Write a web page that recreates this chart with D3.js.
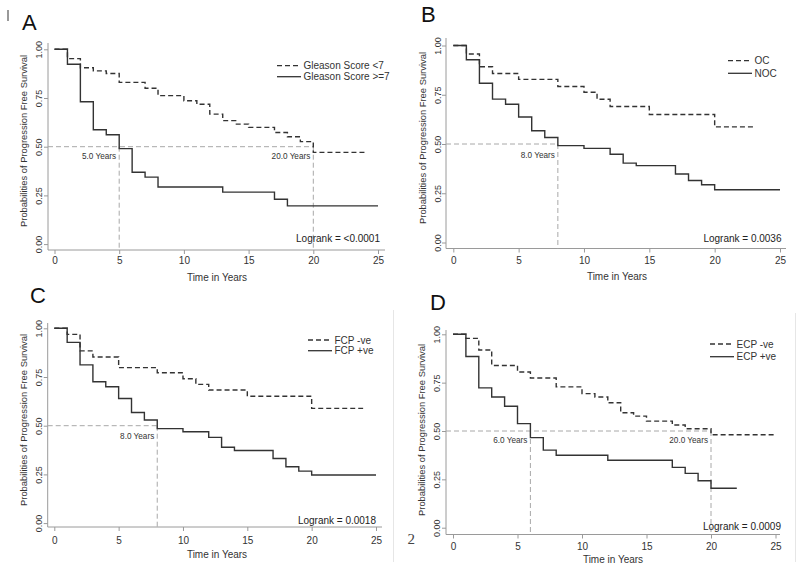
<!DOCTYPE html>
<html>
<head>
<meta charset="utf-8">
<script src="https://cdn.jsdelivr.net/npm/d3@7"></script>
<style>
  html, body { margin: 0; padding: 0; background: #fff; }
  svg { display: block; font-family: "Liberation Sans", Arial, sans-serif; }
</style>
</head>
<body>
<svg id="chart" width="800" height="572"></svg>
<script>
// ---------------- DATA ----------------
const timeTicks = [0, 5, 10, 15, 20, 25];
const survTicks = [0, 0.25, 0.5, 0.75, 1];
const survTickLabels = ["0.00", "0.25", "0.50", "0.75", "1.00"];
const panelLetters = ["A", "B", "C", "D"];
const xTitle = "Time in Years";
const yTitle = "Probabilities of Progression Free Survival";

// Panel A
const aDashTimes = [0, 1, 2, 3, 4, 5, 7, 8, 10, 11, 12, 13, 14, 15, 17, 18, 19, 20, 24];
const aDashSurv  = [1.00, 0.952, 0.905, 0.889, 0.876, 0.830, 0.800, 0.762, 0.736, 0.718, 0.667, 0.634, 0.616, 0.599, 0.573, 0.551, 0.526, 0.471, 0.471];
const aSolidTimes = [0, 1, 2, 3, 4, 5, 6, 7, 8, 13, 17, 18, 25];
const aSolidSurv  = [1.00, 0.923, 0.731, 0.587, 0.561, 0.490, 0.369, 0.344, 0.293, 0.267, 0.230, 0.196, 0.196];
const aLegend = ["Gleason Score <7", "Gleason Score >=7"];
const aLogrank = "Logrank = <0.0001";
const aMedians = [5, 20];

// Panel B
const bDashTimes = [0, 1, 2, 3, 5, 8, 10, 11, 12, 15, 20, 23];
const bDashSurv  = [1.00, 0.957, 0.892, 0.858, 0.828, 0.792, 0.763, 0.727, 0.690, 0.650, 0.587, 0.587];
const bSolidTimes = [0, 1, 2, 3, 4, 5, 6, 7, 8, 10, 12, 13, 14, 17, 18, 19, 20, 25];
const bSolidSurv  = [1.00, 0.928, 0.808, 0.728, 0.702, 0.637, 0.567, 0.533, 0.492, 0.478, 0.448, 0.403, 0.390, 0.348, 0.315, 0.293, 0.268, 0.268];
const bLegend = ["OC", "NOC"];
const bLogrank = "Logrank = 0.0036";
const bMedians = [8];

// Panel C
const cDashTimes = [0, 1, 2, 3, 5, 8, 10, 11, 12, 15, 20, 24];
const cDashSurv  = [1.00, 0.969, 0.884, 0.853, 0.798, 0.772, 0.741, 0.712, 0.683, 0.651, 0.589, 0.589];
const cSolidTimes = [0, 1, 2, 3, 4, 5, 6, 7, 8, 10, 12, 13, 14, 17, 18, 19, 20, 25];
const cSolidSurv  = [1.00, 0.928, 0.812, 0.726, 0.700, 0.640, 0.568, 0.529, 0.485, 0.469, 0.440, 0.389, 0.373, 0.332, 0.289, 0.267, 0.247, 0.247];
const cLegend = ["FCP -ve", "FCP +ve"];
const cLogrank = "Logrank = 0.0018";
const cMedians = [8];

// Panel D
const dDashTimes = [0, 1, 2, 3, 5, 6, 8, 10, 11, 12, 13, 14, 15, 17, 18, 20, 25];
const dDashSurv  = [1.00, 0.979, 0.919, 0.839, 0.805, 0.774, 0.728, 0.693, 0.676, 0.646, 0.594, 0.577, 0.551, 0.531, 0.512, 0.481, 0.481];
const dSolidTimes = [0, 1, 2, 3, 4, 5, 6, 7, 8, 12, 17, 18, 19, 20, 22];
const dSolidSurv  = [1.00, 0.885, 0.723, 0.676, 0.628, 0.538, 0.466, 0.401, 0.375, 0.349, 0.312, 0.281, 0.243, 0.204, 0.204];
const dLegend = ["ECP -ve", "ECP +ve"];
const dLogrank = "Logrank = 0.0009";
const dMedians = [6, 20];

// ---------------- LAYOUT (pixels) ----------------
const layouts = [
  { x0: 54.5, x25: 378, y1: 49.3, yHalf: 146.7, axX: 48, axY: 250, axTop: 43, axRight: 385,
    tickLblY: 263.5, titleY: 281, titleX: 217, yLblX: 39, yTitleX: 23, yTitleY: 141,
    letterX: 22, letterY: 30, legX: 277, legY: 65.7, legDy: 11, logX: 380, logY: 241.5, medLblY: 159 },
  { x0: 453.3, x25: 780, y1: 45.5, yHalf: 144, axX: 446, axY: 248.5, axTop: 38, axRight: 786,
    tickLblY: 263.5, titleY: 280, titleX: 617, yLblX: 437.5, yTitleX: 422, yTitleY: 138,
    letterX: 421, letterY: 22, legX: 728, legY: 60.7, legDy: 12.6, logX: 781.5, logY: 241.5, medLblY: 158 },
  { x0: 54.3, x25: 376, y1: 328.3, yHalf: 425.7, axX: 47.7, axY: 527, axTop: 323, axRight: 382,
    tickLblY: 543.5, titleY: 557.5, titleX: 217, yLblX: 38.5, yTitleX: 23.3, yTitleY: 420,
    letterX: 30, letterY: 303, legX: 308, legY: 340, legDy: 10.7, logX: 376, logY: 523.5, medLblY: 439 },
  { x0: 453, x25: 775.5, y1: 334.3, yHalf: 431, axX: 446, axY: 534.5, axTop: 330, axRight: 780,
    tickLblY: 550, titleY: 563, titleX: 613, yLblX: 436.7, yTitleX: 421.7, yTitleY: 430,
    letterX: 430, letterY: 310, legX: 710, legY: 344, legDy: 12.7, logX: 781, logY: 530, medLblY: 443 }
];

const panels = [
  { dash: [aDashTimes, aDashSurv], solid: [aSolidTimes, aSolidSurv], legend: aLegend, logrank: aLogrank, medians: aMedians },
  { dash: [bDashTimes, bDashSurv], solid: [bSolidTimes, bSolidSurv], legend: bLegend, logrank: bLogrank, medians: bMedians },
  { dash: [cDashTimes, cDashSurv], solid: [cSolidTimes, cSolidSurv], legend: cLegend, logrank: cLogrank, medians: cMedians },
  { dash: [dDashTimes, dDashSurv], solid: [dSolidTimes, dSolidSurv], legend: dLegend, logrank: dLogrank, medians: dMedians }
];

// ---------------- DRAW ----------------
const svg = d3.select("#chart");
const curveColor = "#333";
const axisColor = "#9a9a9a";
const textColor = "#333";
const medColor = "#a8a8a8";
const fmtYears = d3.format(".1f");

// faint frame lines and page marks
svg.append("line").attr("x1", 8).attr("x2", 8).attr("y1", 10).attr("y2", 21)
  .attr("stroke", "#555").attr("stroke-width", 1.2);
svg.append("line").attr("x1", 393.5).attr("x2", 393.5).attr("y1", 310).attr("y2", 562)
  .attr("stroke", "#e6e6e6").attr("stroke-width", 1);
svg.append("line").attr("x1", 795.5).attr("x2", 795.5).attr("y1", 313).attr("y2", 562)
  .attr("stroke", "#e6e6e6").attr("stroke-width", 1);
svg.append("text").attr("x", 407.5).attr("y", 543.5).attr("font-family", "Liberation Serif, Times New Roman, serif")
  .attr("font-size", 15).attr("fill", "#444").text("2");

panels.forEach((p, i) => {
  const L = layouts[i];
  const g = svg.append("g");
  const x = d3.scaleLinear().domain([0, 25]).range([L.x0, L.x25]);
  const y0px = L.y1 + 2 * (L.yHalf - L.y1);
  const y = d3.scaleLinear().domain([0, 1]).range([y0px, L.y1]);

  // panel letter
  g.append("text").attr("x", L.letterX).attr("y", L.letterY)
    .attr("font-size", 22).attr("fill", "#111").text(panelLetters[i]);

  // axes lines
  g.append("line").attr("x1", L.axX).attr("x2", L.axX).attr("y1", L.axTop).attr("y2", L.axY)
    .attr("stroke", axisColor).attr("stroke-width", 1);
  g.append("line").attr("x1", L.axX).attr("x2", L.axRight).attr("y1", L.axY).attr("y2", L.axY)
    .attr("stroke", axisColor).attr("stroke-width", 1);

  // x axis ticks via d3.axisBottom
  const xAxis = d3.axisBottom(x).tickValues(timeTicks).tickSize(4).tickSizeOuter(0).tickFormat(d3.format("d"));
  const xg = g.append("g").attr("transform", `translate(0,${L.axY})`).call(xAxis);
  xg.select(".domain").remove();
  xg.selectAll(".tick line").attr("stroke", axisColor);
  xg.selectAll(".tick text").attr("y", L.tickLblY - L.axY).attr("dy", 0)
    .attr("font-size", 10).attr("fill", textColor).attr("font-family", "Liberation Sans, Arial, sans-serif");

  // y axis ticks via d3.axisLeft
  const yAxis = d3.axisLeft(y).tickValues(survTicks).tickSize(4).tickSizeOuter(0)
    .tickFormat((d, k) => survTickLabels[k]);
  const yg = g.append("g").attr("transform", `translate(${L.axX},0)`).call(yAxis);
  yg.select(".domain").remove();
  yg.selectAll(".tick line").attr("stroke", axisColor);
  yg.selectAll(".tick text")
    .attr("x", 0).attr("dy", 0)
    .attr("transform", `translate(${L.yLblX - L.axX},0) rotate(-90)`)
    .attr("text-anchor", "middle").attr("dominant-baseline", "central")
    .attr("font-size", 9).attr("fill", textColor).attr("font-family", "Liberation Sans, Arial, sans-serif");

  // axis titles
  g.append("text").attr("x", L.titleX).attr("y", L.titleY).attr("text-anchor", "middle")
    .attr("font-size", 10).attr("fill", textColor).text(xTitle);
  g.append("text").attr("transform", `translate(${L.yTitleX},${L.yTitleY}) rotate(-90)`)
    .attr("text-anchor", "middle").attr("dominant-baseline", "central")
    .attr("font-size", 9.4).attr("fill", textColor).text(yTitle);

  // median reference lines
  const maxMed = d3.max(p.medians);
  g.append("line").attr("x1", L.axX).attr("x2", x(maxMed)).attr("y1", y(0.5)).attr("y2", y(0.5))
    .attr("stroke", medColor).attr("stroke-width", 1).attr("stroke-dasharray", "5,3");
  p.medians.forEach(m => {
    g.append("line").attr("x1", x(m)).attr("x2", x(m)).attr("y1", y(0.5)).attr("y2", L.axY)
      .attr("stroke", medColor).attr("stroke-width", 1).attr("stroke-dasharray", "5,3");
    g.append("text").attr("x", x(m) - 3).attr("y", L.medLblY).attr("text-anchor", "end")
      .attr("font-size", 8.2).attr("fill", textColor).text(fmtYears(m) + " Years");
  });

  // curves
  const line = d3.line().curve(d3.curveStepAfter).x(d => x(d[0])).y(d => y(d[1]));
  const dashData = d3.zip(p.dash[0], p.dash[1]);
  const solidData = d3.zip(p.solid[0], p.solid[1]);
  g.append("path").attr("d", line(solidData)).attr("fill", "none")
    .attr("stroke", curveColor).attr("stroke-width", 1.4);
  g.append("path").attr("d", line(dashData)).attr("fill", "none")
    .attr("stroke", curveColor).attr("stroke-width", 1.4).attr("stroke-dasharray", "5,3");

  // legend
  p.legend.forEach((lbl, k) => {
    const ly = L.legY + k * L.legDy;
    g.append("line").attr("x1", L.legX).attr("x2", L.legX + 24).attr("y1", ly).attr("y2", ly)
      .attr("stroke", curveColor).attr("stroke-width", 1.3)
      .attr("stroke-dasharray", k === 0 ? "5,3" : null);
    g.append("text").attr("x", L.legX + 26.5).attr("y", ly).attr("dominant-baseline", "central")
      .attr("font-size", 10).attr("fill", textColor).text(lbl);
  });

  // logrank
  g.append("text").attr("x", L.logX).attr("y", L.logY).attr("text-anchor", "end")
    .attr("font-size", 10).attr("fill", "#222").text(p.logrank);
});
</script>
</body>
</html>
